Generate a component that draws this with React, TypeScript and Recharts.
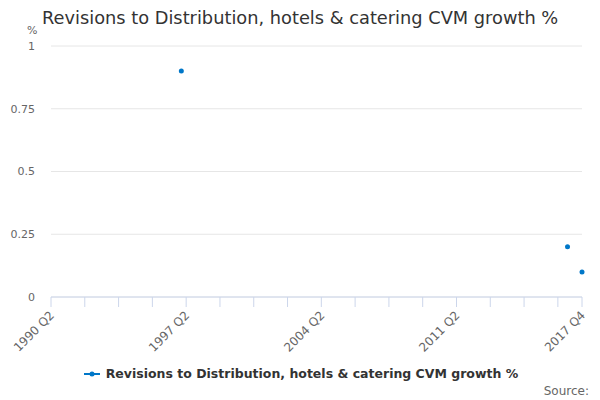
import { LineChart, Line, XAxis, YAxis, CartesianGrid } from "recharts";

// quarters 1990 Q2 .. 2017 Q4
const firstYear = 1990;
const firstQuarter = 2;
const quarterCount = 111;

const quarters: string[] = [];
for (let n = 0; n < quarterCount; n++) {
  const q = firstQuarter - 1 + n;
  quarters.push(`${firstYear + Math.floor(q / 4)} Q${(q % 4) + 1}`);
}

const pointQuarters = ["1997 Q1", "2017 Q1", "2017 Q4"];
const pointValues = [0.9, 0.2, 0.1];

const tickIndexes = [0, 7, 14, 21, 28, 35, 42, 49, 56, 63, 70, 77, 84, 91, 98, 105, 110];
const labelledTicks = ["1990 Q2", "1997 Q2", "2004 Q2", "2011 Q2", "2017 Q4"];
const yTicks = [0, 0.25, 0.5, 0.75, 1];

const seriesName = "Revisions to Distribution, hotels & catering CVM growth %";
const blue = "#0077c8";
const font = "'DejaVu Sans', sans-serif";

const data = quarters.map((label, i) => {
  const k = pointQuarters.indexOf(label);
  return { i, label, value: k >= 0 ? pointValues[k] : null };
});

function QuarterTick({ x, y, payload }: any) {
  const label = quarters[payload.value];
  if (!labelledTicks.includes(label)) return null;
  return (
    <text
      x={x + 4}
      y={y + 7}
      transform={`rotate(-45, ${x + 4}, ${y + 7})`}
      textAnchor="end"
      fill="#666"
      fontSize={12}
      fontFamily={font}
    >
      {label}
    </text>
  );
}

export default function App() {
  return (
    <div
      style={{
        position: "absolute",
        left: 0,
        top: 0,
        width: 600,
        height: 400,
        background: "#fff",
        fontFamily: font,
      }}
    >
      <div style={{ position: "absolute", left: 42, top: 7, fontSize: 17.8, color: "#333", whiteSpace: "nowrap" }}>
        {seriesName}
      </div>
      <div style={{ position: "absolute", left: 27, top: 24, fontSize: 11, color: "#666" }}>%</div>
      <LineChart
        width={600}
        height={400}
        data={data}
        margin={{ top: 46, right: 18, left: 0, bottom: 43 }}
      >
        <CartesianGrid horizontal vertical={false} stroke="#e6e6e6" />
        <XAxis
          dataKey="i"
          type="number"
          domain={[0, quarterCount - 1]}
          ticks={tickIndexes}
          interval={0}
          height={60}
          tick={<QuarterTick />}
          tickSize={10}
          stroke="#ccd6eb"
          tickLine={{ stroke: "#ccd6eb" }}
          axisLine={{ stroke: "#ccd6eb" }}
        />
        <YAxis
          domain={[0, 1]}
          ticks={yTicks}
          width={51}
          axisLine={false}
          tickLine={false}
          tickSize={0}
          tickMargin={16}
          tick={{ fill: "#666", fontSize: 11, fontFamily: font }}
        />
        <Line
          dataKey="value"
          stroke={blue}
          strokeWidth={2}
          dot={{ r: 2.5, fill: blue, stroke: blue, strokeWidth: 0 }}
          isAnimationActive={false}
        />
      </LineChart>
      <div
        style={{
          position: "absolute",
          left: 0,
          width: 600,
          top: 366,
          display: "flex",
          justifyContent: "center",
          alignItems: "center",
          fontSize: 12.5,
          fontWeight: "bold",
          color: "#333",
        }}
      >
        <svg width={20} height={12} style={{ marginRight: 4 }}>
          <line x1={2} y1={6} x2={18} y2={6} stroke={blue} strokeWidth={2} />
          <circle cx={10} cy={6} r={2.5} fill={blue} />
        </svg>
        {seriesName}
      </div>
      <div style={{ position: "absolute", right: 11, top: 384, fontSize: 12, color: "#666" }}>Source:</div>
    </div>
  );
}
